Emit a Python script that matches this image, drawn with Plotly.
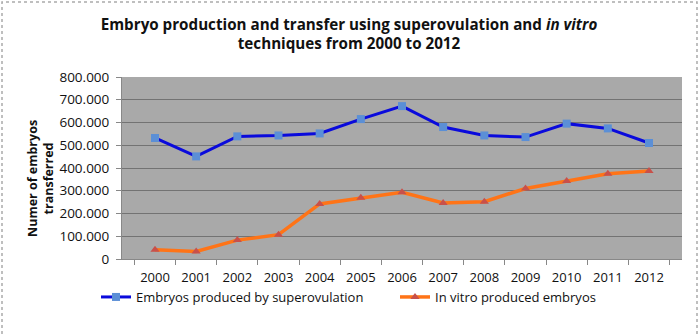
import plotly.graph_objects as go

years = [str(y) for y in range(2000, 2013)]
superovulation = [532000, 451000, 539000, 543000, 552000, 615000, 672000, 580000, 543000, 536000, 595000, 574000, 510000]
in_vitro = [41000, 33000, 83000, 107000, 242000, 269000, 293000, 246000, 252000, 310000, 343000, 375000, 387000]

FONT = "Open Sans"
L, R, T, B = 122, 18, 77, 77
W, H = 700, 336
pw, ph = W - L - R, H - T - B

fig = go.Figure()
fig.add_trace(go.Scatter(
    x=years, y=superovulation, mode="lines+markers",
    name="Embryos produced by superovulation",
    line=dict(color="#0a0adc", width=3),
    marker=dict(symbol="square", size=8, color="#5b8fd6"),
))
fig.add_trace(go.Scatter(
    x=years, y=in_vitro, mode="lines+markers",
    name="In vitro produced embryos",
    line=dict(color="#ff7417", width=3.5),
    marker=dict(symbol="triangle-up", size=8, color="#c8504a"),
))

fig.update_layout(
    width=W, height=H,
    margin=dict(l=L, r=R, t=T, b=B, autoexpand=False),
    paper_bgcolor="white",
    plot_bgcolor="#a9a9a9",
    separators=",.",
    font=dict(family=FONT, size=13, color="#111111"),
    title=dict(
        text="<b>Embryo production and transfer using superovulation and <i>in vitro</i><br>techniques from 2000 to 2012</b>",
        xref="container", x=349 / W, xanchor="center",
        yref="container", y=0.912, yanchor="top",
        font=dict(family=FONT, size=15.2, color="#111111"),
    ),
    xaxis=dict(
        type="category", showgrid=False, ticks="outside", tickson="boundaries",
        ticklen=5, tickcolor="#888888", showline=True, linecolor="#888888",
        tickfont=dict(size=13), zeroline=False, ticklabelstandoff=6,
    ),
    yaxis=dict(
        range=[0, 800000], dtick=100000, tickformat=",.0f",
        showgrid=True, gridcolor="#737373", gridwidth=1,
        ticks="outside", ticklen=5, tickcolor="#888888",
        showline=True, linecolor="#888888", zeroline=False,
        tickfont=dict(size=13.5), ticklabelstandoff=4,
    ),
    legend=dict(
        orientation="h", xref="paper", x=(96 - L) / pw, xanchor="left",
        yref="paper", y=(259 - 297) / ph, yanchor="middle",
        font=dict(family=FONT, size=13), bgcolor="rgba(0,0,0,0)",
        entrywidth=254,
    ),
    showlegend=True,
)

# y-axis title (placed like the original, slightly below the axis middle)
fig.add_annotation(
    text="<b>Numer of embryos<br>transferred</b>", textangle=-90,
    xref="paper", yref="paper", x=(40 - L) / pw, y=(259 - 179) / ph,
    xanchor="center", yanchor="middle", showarrow=False,
    font=dict(family=FONT, size=12.5, color="#111111"),
)

# dotted border around the whole picture
fig.add_shape(
    type="rect", xref="paper", yref="paper",
    x0=(2 - L) / pw, x1=(W - 3 - L) / pw,
    y0=(B - (H - 3)) / ph, y1=(H - 2 - B) / ph,
    line=dict(color="#aaaaaa", width=1.5, dash="dot"),
    layer="below",
)

fig.write_html("out.html")
